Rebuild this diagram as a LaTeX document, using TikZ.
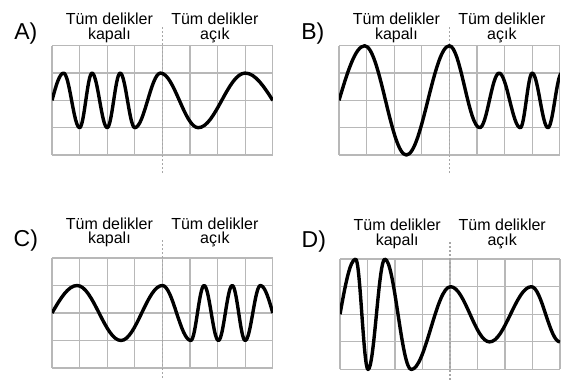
\documentclass[tikz,border=0pt]{standalone}
\usepackage{fontspec}
\setmainfont{Liberation Sans}
\usetikzlibrary{positioning}
\tikzset{
  grd/.style  = {draw=black!28, line width=1.2pt},
  mid/.style  = {draw=black!35, line width=1.1pt, dash pattern=on 2pt off 2pt},
  wave/.style = {line width=3.4pt, line join=round},
  hdr/.style  = {font=\fontsize{16}{14.5}\selectfont, align=center,
                 inner sep=0pt, anchor=south},
  tag/.style  = {font=\fontsize{23}{23}\selectfont, inner sep=0pt},
}
% grid of the screen, its two headings and its letter
% #1 letter, #2 lift of the headings, #3 lift of the letter
\newcommand{\oscgrid}[3]{%
  \foreach \i in {0,...,8} \draw[grd] (\i,0) -- (\i,4);
  \foreach \j in {0,...,4} \draw[grd] (0,\j) -- (8,\j);
  \draw[mid] (4,-0.66) -- (4,4.68);
  \node[tag, yshift=#3] (tag#1) at (-0.95,4) {#1)};
  \node[hdr, yshift=#2] (shut#1) at (2.08,4) {Tüm delikler\\kapalı};
  \node[hdr, yshift=#2] (open#1) at (5.9,4) {Tüm delikler\\açık};
}

\begin{document}
\begin{tikzpicture}
  \useasboundingbox (0,0) rectangle (566pt,380pt);

  % A
  \begin{scope}[shift={(52pt,225pt)}, x=27.6pt, y=27.3pt]
    \oscgrid{A}{3.2pt}{12.5pt}
    \begin{scope}
      \clip (0,-0.5) rectangle (8,4.5);
      \draw[wave] (0,2) sin (0.42,3) cos (0.71,2) sin (1,1) cos (1.225,2)
        sin (1.45,3) cos (1.725,2) sin (2,1) cos (2.235,2) sin (2.47,3)
        cos (2.735,2) sin (3,1) cos (3.465,2) sin (3.93,3) cos (4.615,2)
        sin (5.3,1) cos (6.15,2) sin (7,3) cos (8,2);
    \end{scope}
  \end{scope}

  % B
  \begin{scope}[shift={(339pt,225pt)}, x=27.6pt, y=27.3pt]
    \oscgrid{B}{3.2pt}{12.5pt}
    \begin{scope}
      \clip (0,-0.5) rectangle (8,4.5);
      \draw[wave] (0,2) sin (0.93,4) cos (1.685,2) sin (2.44,0) cos (3.22,2)
        sin (4,4) cos (4.55,2.5) sin (5.1,1) cos (5.45,2) sin (5.8,3)
        cos (6.185,2) sin (6.57,1) cos (6.785,2) sin (7,3) cos (7.285,2)
        sin (7.57,1) cos (7.82,2) sin (8.07,3);
    \end{scope}
  \end{scope}

  % C
  \begin{scope}[shift={(52pt,12pt)}, x=27.6pt, y=27.5pt]
    \oscgrid{C}{10.5pt}{17.5pt}
    \begin{scope}
      \clip (0,-0.5) rectangle (8,4.5);
      \draw[wave] (0,2) sin (0.91,3) cos (1.705,2) sin (2.5,1) cos (3.25,2)
        sin (4,3) cos (4.515,2) sin (5.03,1) cos (5.27,2) sin (5.51,3)
        cos (5.77,2) sin (6.03,1) cos (6.28,2) sin (6.53,3) cos (6.765,2)
        sin (7,1) cos (7.275,2) sin (7.55,3) cos (8,2);
    \end{scope}
  \end{scope}

  % D
  \begin{scope}[shift={(340pt,10.5pt)}, x=27.5pt, y=27.6pt]
    \oscgrid{D}{10.5pt}{17.5pt}
    \begin{scope}
      \clip (0,-0.5) rectangle (8,4.5);
      \draw[wave] (0,2) sin (0.57,4) cos (0.795,2) sin (1.02,0) cos (1.325,2)
        sin (1.63,4) cos (2.11,2) sin (2.59,0) cos (3.305,1.5) sin (4.02,3)
        cos (4.73,2) sin (5.44,1) cos (6.2,2) sin (6.96,3) cos (7.48,2)
        sin (8,1);
    \end{scope}
  \end{scope}
\end{tikzpicture}
\end{document}
